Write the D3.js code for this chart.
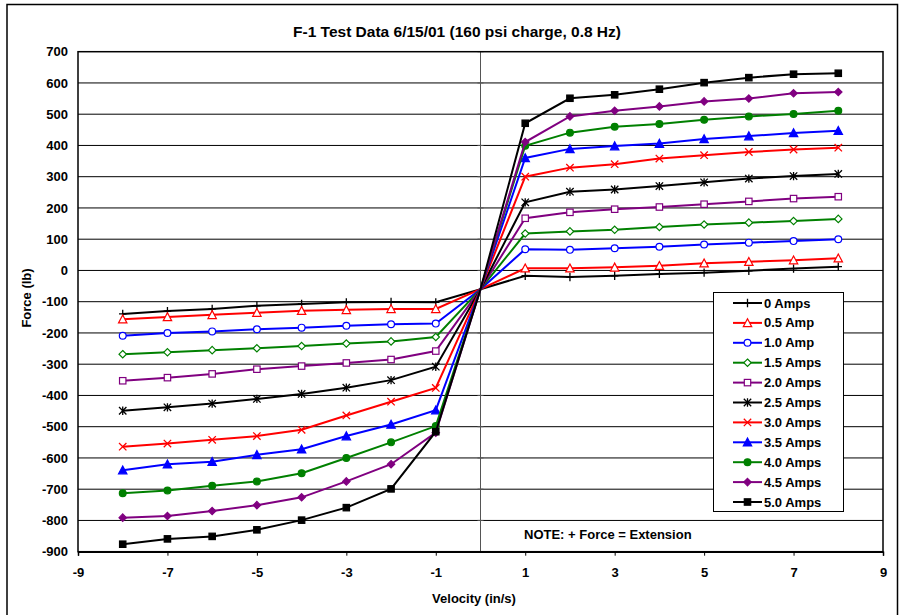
<!DOCTYPE html>
<html>
<head>
<meta charset="utf-8">
<script src="https://cdn.jsdelivr.net/npm/d3@7"></script>
<style>
  body { margin: 0; background: #fff; }
  svg text { font-family: "Liberation Sans", Arial, sans-serif; font-weight: bold; }
</style>
</head>
<body>
<svg id="chart" width="901" height="615"></svg>
<script>
const title = "F-1 Test Data 6/15/01 (160 psi charge, 0.8 Hz)";
const xLabel = "Velocity (in/s)";
const yLabel = "Force (lb)";
const note = "NOTE: + Force = Extension";

const velocity = [-8, -7, -6, -5, -4, -3, -2, -1, 0, 1, 2, 3, 4, 5, 6, 7, 8];

const amps0_0 = [-139, -130, -123, -113, -107, -102, -101, -102, -60, -17, -21, -17, -11, -7, -1, 6, 12];
const amps0_5 = [-156, -149, -142, -135, -129, -126, -123, -123, -60, 7, 7, 10, 15, 23, 28, 33, 39];
const amps1_0 = [-209, -200, -195, -188, -183, -177, -172, -170, -60, 68, 66, 71, 76, 83, 89, 94, 100];
const amps1_5 = [-268, -262, -255, -249, -242, -234, -227, -213, -60, 118, 125, 130, 139, 147, 153, 158, 165];
const amps2_0 = [-353, -343, -331, -316, -306, -296, -285, -258, -60, 167, 186, 196, 203, 212, 221, 230, 236];
const amps2_5 = [-449, -438, -426, -411, -395, -375, -351, -308, -60, 218, 252, 259, 270, 282, 294, 302, 309];
const amps3_0 = [-564, -554, -542, -530, -510, -464, -420, -376, -60, 300, 329, 340, 358, 369, 379, 387, 393];
const amps3_5 = [-639, -620, -612, -590, -572, -530, -493, -447, -60, 360, 389, 398, 406, 421, 430, 440, 447];
const amps4_0 = [-713, -704, -689, -675, -649, -600, -550, -498, -60, 399, 441, 460, 469, 482, 493, 501, 511];
const amps4_5 = [-791, -786, -770, -751, -726, -675, -620, -519, -60, 411, 493, 511, 525, 541, 550, 567, 571];
const amps5_0 = [-876, -859, -851, -830, -799, -759, -699, -516, -60, 471, 551, 562, 580, 601, 617, 628, 631];

const seriesNames = ["0 Amps", "0.5 Amp", "1.0 Amp", "1.5 Amps", "2.0 Amps", "2.5 Amps",
                     "3.0 Amps", "3.5 Amps", "4.0 Amps", "4.5 Amps", "5.0 Amps"];
const seriesValues = [amps0_0, amps0_5, amps1_0, amps1_5, amps2_0, amps2_5,
                      amps3_0, amps3_5, amps4_0, amps4_5, amps5_0];
const seriesColors = ["#000000", "#ff0000", "#0000ff", "#008000", "#800080", "#000000",
                      "#ff0000", "#0000ff", "#008000", "#800080", "#000000"];
const seriesMarkers = ["plus", "triangleOpen", "circleOpen", "diamondOpen", "squareOpen", "asterisk",
                       "cross", "triangle", "circle", "diamond", "square"];

const xTicks = [-9, -7, -5, -3, -1, 1, 3, 5, 7, 9];
const yTicks = [700, 600, 500, 400, 300, 200, 100, 0, -100, -200, -300, -400, -500, -600, -700, -800, -900];

const svg = d3.select("#chart");
const L = 78, R = 883, T = 51.7, B = 551.7;
const x = d3.scaleLinear().domain([-9, 9]).range([L, R]);
const y = d3.scaleLinear().domain([-900, 700]).range([B, T]);
const fmt = d => String(d);

// outer frame
svg.append("path")
  .attr("d", `M7,640 V4.5 H897.5 V640`)
  .attr("fill", "none").attr("stroke", "#000").attr("stroke-width", 1.5);

// gridlines
svg.append("g").selectAll("line").data(yTicks.filter(v => v > -900 && v < 700)).join("line")
  .attr("x1", L).attr("x2", R).attr("y1", d => y(d)).attr("y2", d => y(d))
  .attr("stroke", "#000").attr("stroke-width", 1);

// vertical axis at x = 0 with cross ticks
svg.append("line").attr("x1", x(0)).attr("x2", x(0)).attr("y1", T).attr("y2", B)
  .attr("stroke", "#555").attr("stroke-width", 1);
svg.append("g").selectAll("line").data(yTicks).join("line")
  .attr("x1", x(0) - 3).attr("x2", x(0) + 3).attr("y1", d => y(d)).attr("y2", d => y(d))
  .attr("stroke", "#555").attr("stroke-width", 1);

// plot border
svg.append("rect").attr("x", L).attr("y", T).attr("width", R - L).attr("height", B - T)
  .attr("fill", "none").attr("stroke", "#000").attr("stroke-width", 1.5);

// x axis
const xAxis = d3.axisBottom(x).tickValues(xTicks).tickSize(4).tickPadding(12).tickFormat(fmt);
const gx = svg.append("g").attr("transform", `translate(0,${B})`).call(xAxis);
gx.select(".domain").attr("stroke", "#000").attr("stroke-width", 1.5);
gx.selectAll("line").attr("stroke", "#000");
gx.selectAll("text").attr("font-size", 13).attr("fill", "#000")
  .attr("font-family", "Liberation Sans, Arial, sans-serif").attr("font-weight", "bold");

// y axis labels (low position)
const yAxis = d3.axisLeft(y).tickValues(yTicks).tickSize(0).tickPadding(10).tickFormat(fmt);
const gy = svg.append("g").attr("transform", `translate(${L},0)`).call(yAxis);
gy.select(".domain").remove();
gy.selectAll("text").attr("font-size", 13).attr("fill", "#000")
  .attr("font-family", "Liberation Sans, Arial, sans-serif").attr("font-weight", "bold");

// titles
svg.append("text").attr("x", 457).attr("y", 37).attr("text-anchor", "middle")
  .attr("font-size", 15.5).text(title);
svg.append("text").attr("x", 474).attr("y", 603).attr("text-anchor", "middle")
  .attr("font-size", 13).text(xLabel);
svg.append("text").attr("transform", `translate(31,298) rotate(-90)`).attr("text-anchor", "middle")
  .attr("font-size", 13).text(yLabel);

// marker drawing
function drawMarker(g, type, color) {
  const r = 3.7;
  switch (type) {
    case "plus":
      g.append("path").attr("d", `M${-r},0H${r}M0,${-r - 0.5}V${r + 0.5}`).attr("stroke", color).attr("stroke-width", 1.3).attr("fill", "none"); break;
    case "cross":
      g.append("path").attr("d", `M${-r},${-r}L${r},${r}M${-r},${r}L${r},${-r}`).attr("stroke", color).attr("stroke-width", 1.3).attr("fill", "none"); break;
    case "asterisk":
      g.append("path").attr("d", `M${-r},${-r}L${r},${r}M${-r},${r}L${r},${-r}M0,${-r - 0.5}V${r + 0.5}`).attr("stroke", color).attr("stroke-width", 1.3).attr("fill", "none"); break;
    case "triangleOpen":
    case "triangle":
      g.append("path").attr("d", `M0,${-r - 0.5}L${r + 0.5},${r}L${-r - 0.5},${r}Z`)
        .attr("stroke", color).attr("stroke-width", 1.2)
        .attr("fill", type === "triangle" ? color : "#fff"); break;
    case "circleOpen":
    case "circle":
      g.append("circle").attr("r", r - 0.3).attr("stroke", color).attr("stroke-width", 1.2)
        .attr("fill", type === "circle" ? color : "#fff"); break;
    case "diamondOpen":
    case "diamond":
      g.append("path").attr("d", `M0,${-r}L${r},0L0,${r}L${-r},0Z`).attr("stroke", color).attr("stroke-width", 1.2)
        .attr("fill", type === "diamond" ? color : "#fff"); break;
    case "squareOpen":
    case "square":
      g.append("rect").attr("x", -r + 0.5).attr("y", -r + 0.5).attr("width", 2 * r - 1).attr("height", 2 * r - 1)
        .attr("stroke", color).attr("stroke-width", 1.2)
        .attr("fill", type === "square" ? color : "#fff"); break;
  }
}

// series
const line = d3.line().x(d => x(d[0])).y(d => y(d[1]));
seriesValues.forEach((vals, i) => {
  const pts = velocity.map((v, j) => [v, vals[j]]);
  const g = svg.append("g");
  g.append("path").attr("d", line(pts)).attr("fill", "none")
    .attr("stroke", seriesColors[i]).attr("stroke-width", 2);
  pts.filter(p => p[0] !== 0).forEach(p => {
    const mg = g.append("g").attr("transform", `translate(${x(p[0])},${y(p[1])})`);
    drawMarker(mg, seriesMarkers[i], seriesColors[i]);
  });
});

// legend
const lg = svg.append("g");
lg.append("rect").attr("x", 713.5).attr("y", 292.5).attr("width", 130).attr("height", 219)
  .attr("fill", "#fff").attr("stroke", "#000").attr("stroke-width", 1);
seriesNames.forEach((name, i) => {
  const yy = 303 + i * 19.9;
  lg.append("line").attr("x1", 733).attr("x2", 762).attr("y1", yy).attr("y2", yy)
    .attr("stroke", seriesColors[i]).attr("stroke-width", 2);
  const mg = lg.append("g").attr("transform", `translate(747.5,${yy})`);
  drawMarker(mg, seriesMarkers[i], seriesColors[i]);
  lg.append("text").attr("x", 764).attr("y", yy + 4.5).attr("font-size", 13).text(name);
});

// note
svg.append("text").attr("x", 524).attr("y", 539).attr("font-size", 13).text(note);
</script>
</body>
</html>
